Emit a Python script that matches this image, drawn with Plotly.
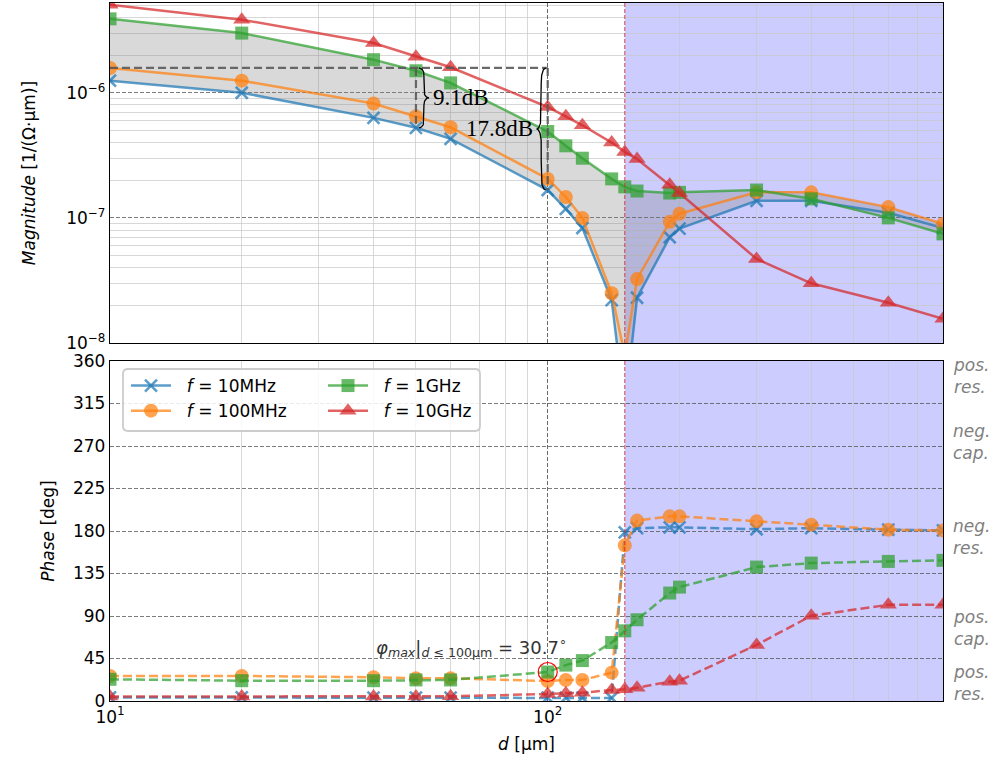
import numpy as np
import plotly.graph_objects as go

# ---------------- data ----------------
d_um = [10, 20, 40, 50, 60, 100, 110, 120, 140, 150, 160, 190, 200, 300, 400, 600, 800]
freq_labels = ["10MHz", "100MHz", "1GHz", "10GHz"]

mag_10MHz = [1.25e-6, 1.0e-6, 6.3e-7, 5.25e-7, 4.28e-7, 1.67e-7, 1.18e-7, 8.3e-8, 2.2e-8, 3e-9,
             2.3e-8, 7.0e-8, 8.2e-8, 1.37e-7, 1.37e-7, 1.1e-7, 8.3e-8]
mag_100MHz = [1.58e-6, 1.25e-6, 8.2e-7, 6.5e-7, 5.3e-7, 2.05e-7, 1.47e-7, 1.0e-7, 2.5e-8, 8e-9,
              3.25e-8, 9.3e-8, 1.08e-7, 1.6e-7, 1.6e-7, 1.22e-7, 8.95e-8]
mag_1GHz = [3.9e-6, 3.0e-6, 1.84e-6, 1.5e-6, 1.2e-6, 4.9e-7, 3.77e-7, 3.0e-7, 2.05e-7, 1.77e-7,
            1.64e-7, 1.58e-7, 1.6e-7, 1.67e-7, 1.42e-7, 1.0e-7, 7.45e-8]
mag_10GHz = [5.06e-6, 3.84e-6, 2.5e-6, 1.94e-6, 1.6e-6, 7.7e-7, 6.5e-7, 5.5e-7, 4.0e-7, 3.37e-7,
             2.96e-7, 1.84e-7, 1.58e-7, 4.7e-8, 3.0e-8, 2.1e-8, 1.56e-8]

phase_10MHz = [3.8, 3.8, 3.6, 3.6, 3.6, 3.5, 3.5, 3.5, 3.2, 178.6, 183.0, 183.9, 183.9, 181.9, 183.0, 181.4, 180.7]
phase_100MHz = [26.5, 26.5, 25.1, 24.0, 24.0, 21.2, 22.3, 22.3, 30.0, 164.8, 191.0, 195.5, 195.5, 190.2, 186.7, 181.4, 180.4]
phase_1GHz = [23.0, 21.5, 21.5, 22.3, 22.3, 30.7, 38.0, 42.8, 61.9, 74.3, 86.0, 114.3, 120.6, 141.8, 146.0, 147.8, 148.9]
phase_10GHz = [4.8, 4.8, 4.8, 4.8, 5.0, 7.4, 8.1, 8.8, 11.7, 12.4, 14.1, 20.5, 21.5, 59.4, 90.2, 101.9, 101.9]

d_boundary = 150
d_short = 50
d_long = 100
gain_short_text = "9.1dB"
gain_long_text = "17.8dB"
phi_max_text = "30.7"

phase_ticks = [0, 45, 90, 135, 180, 225, 270, 315, 360]
region_labels = ["pos.<br>res.", "neg.<br>cap.", "neg.<br>res.", "pos.<br>cap.", "pos.<br>res."]
region_label_pos = [344, 274, 174, 77, 19]

mags = [mag_10MHz, mag_100MHz, mag_1GHz, mag_10GHz]
phases = [phase_10MHz, phase_100MHz, phase_1GHz, phase_10GHz]

# ---------------- styles ----------------
W, H = 995, 765
ML, MR, MT, MB = 110, 52, 3, 64
PW = W - ML - MR
PH = H - MT - MB
base_cols = [(31, 119, 180), (255, 127, 14), (44, 160, 44), (214, 39, 40)]
cols = ["rgba(%d,%d,%d,0.72)" % c for c in base_cols]
symbols = ["x-thin", "circle", "square", "triangle-up"]
sizes = [12, 14, 13, 15]
FONT = "DejaVu Sans"

x_lo, x_hi = 1.0, np.log10(800)
y_lo, y_hi = -8.0, np.log10(5.22e-6)
bot_dom = [0.0, (701 - 361) / PH]
top_dom = [1 - (343 - MT) / PH, 1.0]
ppd_x = PW / (x_hi - x_lo)


def marker(i):
    if symbols[i] == "x-thin":
        return dict(symbol="x-thin", size=sizes[i], line=dict(width=2.6, color=cols[i]), color=cols[i])
    return dict(symbol=symbols[i], size=sizes[i], color=cols[i], line=dict(width=0))


fig = go.Figure()

# --- gray band between min and max of first three series ---
arr3 = np.array(mags[:3])
lo = arr3.min(axis=0)
hi = arr3.max(axis=0)
fig.add_trace(go.Scatter(x=d_um, y=lo, mode="lines", line=dict(width=0, color="rgba(0,0,0,0)"),
                         showlegend=False, hoverinfo="skip", xaxis="x", yaxis="y"))
fig.add_trace(go.Scatter(x=d_um, y=hi, mode="lines", line=dict(width=0, color="rgba(0,0,0,0)"),
                         fill="tonexty", fillcolor="rgba(128,128,128,0.3)",
                         showlegend=False, hoverinfo="skip", xaxis="x", yaxis="y"))

# --- magnitude lines (legend entries come from these solid lines) ---
legend_names = ["legend", "legend", "legend2", "legend2"]
for i in range(4):
    fig.add_trace(go.Scatter(x=d_um, y=mags[i], mode="lines+markers",
                             line=dict(color=cols[i], width=2.5), marker=marker(i),
                             name="&nbsp;&nbsp;<i>f</i> = " + freq_labels[i], legend=legend_names[i],
                             showlegend=True, xaxis="x", yaxis="y"))

# --- reference dashed lines ---
ref = mag_100MHz[0]
i_s = d_um.index(d_short)
i_l = d_um.index(d_long)
dash_style = dict(color="rgba(90,90,90,0.9)", width=2.2, dash="8px,4px")
fig.add_trace(go.Scatter(x=[d_um[0], d_long], y=[ref, ref], mode="lines", line=dash_style,
                         showlegend=False, hoverinfo="skip", xaxis="x", yaxis="y"))
fig.add_trace(go.Scatter(x=[d_short, d_short], y=[ref, mag_10MHz[i_s]], mode="lines", line=dash_style,
                         showlegend=False, hoverinfo="skip", xaxis="x", yaxis="y"))
fig.add_trace(go.Scatter(x=[d_long, d_long], y=[ref, mag_10MHz[i_l]], mode="lines", line=dash_style,
                         showlegend=False, hoverinfo="skip", xaxis="x", yaxis="y"))


def brace(xlog, y0log, y1log, wlog, n=80):
    t = np.linspace(0, 1, 2 * n + 1)
    u = np.where(t <= 0.5, t, 1 - t) / 0.5
    a = 0.22
    q1 = np.where(u < a, np.sqrt(np.clip(1 - (1 - u / a) ** 2, 0, 1)), 1.0)
    q2 = np.where(u > 1 - a, 1 - np.sqrt(np.clip(1 - ((u - (1 - a)) / a) ** 2, 0, 1)), 0.0)
    off = wlog * (0.5 * q1 + 0.5 * q2)
    xs = 10 ** (xlog + off)
    ys = 10 ** (y0log + (y1log - y0log) * t)
    return xs, ys


bx, by = brace(np.log10(d_short) + 3 / ppd_x, np.log10(ref), np.log10(mag_10MHz[i_s]), 10 / ppd_x)
fig.add_trace(go.Scatter(x=bx, y=by, mode="lines", line=dict(color="black", width=1.3),
                         showlegend=False, hoverinfo="skip", xaxis="x", yaxis="y"))
bx, by = brace(np.log10(d_long) - 2 / ppd_x, np.log10(ref), np.log10(mag_10MHz[i_l]), -9 / ppd_x)
fig.add_trace(go.Scatter(x=bx, y=by, mode="lines", line=dict(color="black", width=1.3),
                         showlegend=False, hoverinfo="skip", xaxis="x", yaxis="y"))

# --- phase lines ---
for i in range(4):
    fig.add_trace(go.Scatter(x=d_um, y=phases[i], mode="lines+markers",
                             line=dict(color=cols[i], width=2.5, dash="9px,4px"), marker=marker(i),
                             showlegend=False, xaxis="x2", yaxis="y2"))

# phi max circle
cand = [(phases[s][k], k) for s in range(4) for k in range(len(d_um)) if d_um[k] <= 100]
pmax, kmax = max(cand)
fig.add_trace(go.Scatter(x=[d_um[kmax]], y=[pmax], mode="markers",
                         marker=dict(symbol="circle-open", size=19, color="red", line=dict(width=1.2, color="red")),
                         showlegend=False, hoverinfo="skip", xaxis="x2", yaxis="y2"))

# ---------------- shapes ----------------
fb = (np.log10(d_boundary) - x_lo) / (x_hi - x_lo)
shapes = []
for xr, yr in (("x domain", "y domain"), ("x2 domain", "y2 domain")):
    shapes.append(dict(type="rect", xref=xr, yref=yr, x0=fb, x1=1, y0=0, y1=1,
                       fillcolor="rgba(0,0,255,0.2)", line=dict(width=0), layer="below"))
    shapes.append(dict(type="line", xref=xr, yref=yr, x0=fb, x1=fb, y0=0, y1=1,
                       line=dict(color="rgba(214,39,40,0.85)", width=1, dash="4px,2px"), layer="above"))

# legend frame (rounded)
lx0, lx1 = (123 - ML) / PW, (480 - ML) / PW
ly1, ly0 = (701 - 369) / PH, (701 - 431) / PH
rx, ry = 5 / PW, 5 / PH
path = ("M %f,%f L %f,%f Q %f,%f %f,%f L %f,%f Q %f,%f %f,%f L %f,%f Q %f,%f %f,%f L %f,%f Q %f,%f %f,%f Z" % (
    lx0 + rx, ly0, lx1 - rx, ly0, lx1, ly0, lx1, ly0 + ry, lx1, ly1 - ry, lx1, ly1, lx1 - rx, ly1,
    lx0 + rx, ly1, lx0, ly1, lx0, ly1 - ry, lx0, ly0 + ry, lx0, ly0, lx0 + rx, ly0))
shapes.append(dict(type="path", xref="paper", yref="paper", path=path,
                   fillcolor="rgba(255,255,255,0.85)", line=dict(color="#cccccc", width=1.8), layer="above"))

# ---------------- annotations ----------------
ann = []
serif = dict(family="Liberation Serif, Times New Roman, serif", size=23, color="black")
ann.append(dict(x=np.log10(d_short) + 15 / ppd_x, y=(np.log10(ref) + np.log10(mag_10MHz[i_s])) / 2,
                xref="x", yref="y", text=gain_short_text, showarrow=False, xanchor="left",
                yanchor="middle", font=serif))
ann.append(dict(x=np.log10(d_long) - 13 / ppd_x, y=(np.log10(ref) + np.log10(mag_10MHz[i_l])) / 2,
                xref="x", yref="y", text=gain_long_text, showarrow=False, xanchor="right",
                yanchor="middle", font=serif))
ann.append(dict(x=np.log10(d_um[kmax]) + 21 / ppd_x, y=pmax + 26, xref="x2", yref="y2",
                text="<i>φ<sub>max</sub></i>|<sub><i>d</i> ≤ 100μm</sub> = " + phi_max_text + "<sup>∘</sup>",
                showarrow=False, xanchor="right", yanchor="middle",
                font=dict(family=FONT, size=18, color="#333333")))
for lab, pos in zip(region_labels, region_label_pos):
    ann.append(dict(x=(951 - ML) / PW, y=pos, xref="paper", yref="y2", text="<i>" + lab + "</i>",
                    showarrow=False, xanchor="left", yanchor="middle", align="left",
                    font=dict(family=FONT, size=17, color="#808080")))

# ---------------- axes ----------------
x_minor = [v * 10 for v in range(2, 10)] + [v * 100 for v in range(2, 9)]
y_minor = [v * 10.0 ** e for e in (-8, -7, -6) for v in range(2, 10)]
axis_common = dict(showline=True, linecolor="black", linewidth=1.3, mirror=True, ticks="",
                   automargin=False, tickfont=dict(family=FONT, size=17, color="black"))
minor_grid = dict(showgrid=True, gridcolor="rgba(200,200,200,0.7)", gridwidth=1, griddash="solid", ticks="")
xa = dict(type="log", range=[x_lo, x_hi], tickmode="array", tickvals=[10, 100],
          ticktext=["10<sup>1</sup>", "10<sup>2</sup>"], showgrid=True, gridcolor="rgba(80,80,80,0.85)",
          gridwidth=0.8, griddash="4px,2px",
          minor=dict(tickmode="array", tickvals=x_minor, **minor_grid),
          **axis_common)

fig.update_layout(
    width=W, height=H, margin=dict(l=ML, r=MR, t=MT, b=MB, autoexpand=False),
    paper_bgcolor="white", plot_bgcolor="white",
    font=dict(family=FONT, size=17, color="black"),
    xaxis=dict(anchor="y", domain=[0, 1], showticklabels=False, **xa),
    xaxis2=dict(anchor="y2", domain=[0, 1], matches="x",
                title=dict(text="<i>d</i> [μm]", font=dict(size=17), standoff=12), **xa),
    yaxis=dict(anchor="x", domain=top_dom, type="log", range=[y_lo, y_hi], tickmode="array",
               tickvals=[1e-8, 1e-7, 1e-6], ticktext=["10<sup>−8</sup>", "10<sup>−7</sup>", "10<sup>−6</sup>"],
               showgrid=True, gridcolor="rgba(80,80,80,0.75)", gridwidth=0.8, griddash="4px,2px",
               minor=dict(tickmode="array", tickvals=y_minor, **minor_grid),
               title=dict(text="<i>Magnitude</i> [1/(Ω·μm)]", font=dict(size=17), standoff=26),
               **axis_common),
    yaxis2=dict(anchor="x2", domain=bot_dom, range=[0, 360], tickmode="array", tickvals=phase_ticks,
                showgrid=True, gridcolor="rgba(80,80,80,0.75)", gridwidth=0.8, griddash="4px,2px",
                zeroline=False,
                title=dict(text="<i>Phase</i> [deg]", font=dict(size=17), standoff=14),
                **axis_common),
    legend=dict(x=(126 - ML) / PW, y=(701 - 368) / PH, xanchor="left", yanchor="top",
                bgcolor="rgba(0,0,0,0)", borderwidth=0, font=dict(family=FONT, size=17),
                itemwidth=40, tracegroupgap=0, traceorder="normal"),
    legend2=dict(x=(323 - ML) / PW, y=(701 - 368) / PH, xanchor="left", yanchor="top",
                 bgcolor="rgba(0,0,0,0)", borderwidth=0, font=dict(family=FONT, size=17),
                 itemwidth=40, tracegroupgap=0, traceorder="normal"),
    shapes=shapes, annotations=ann,
)

fig.write_html("out.html", config={"displayModeBar": False},
               post_script="document.body.style.margin='0';document.body.style.overflow='hidden';")
